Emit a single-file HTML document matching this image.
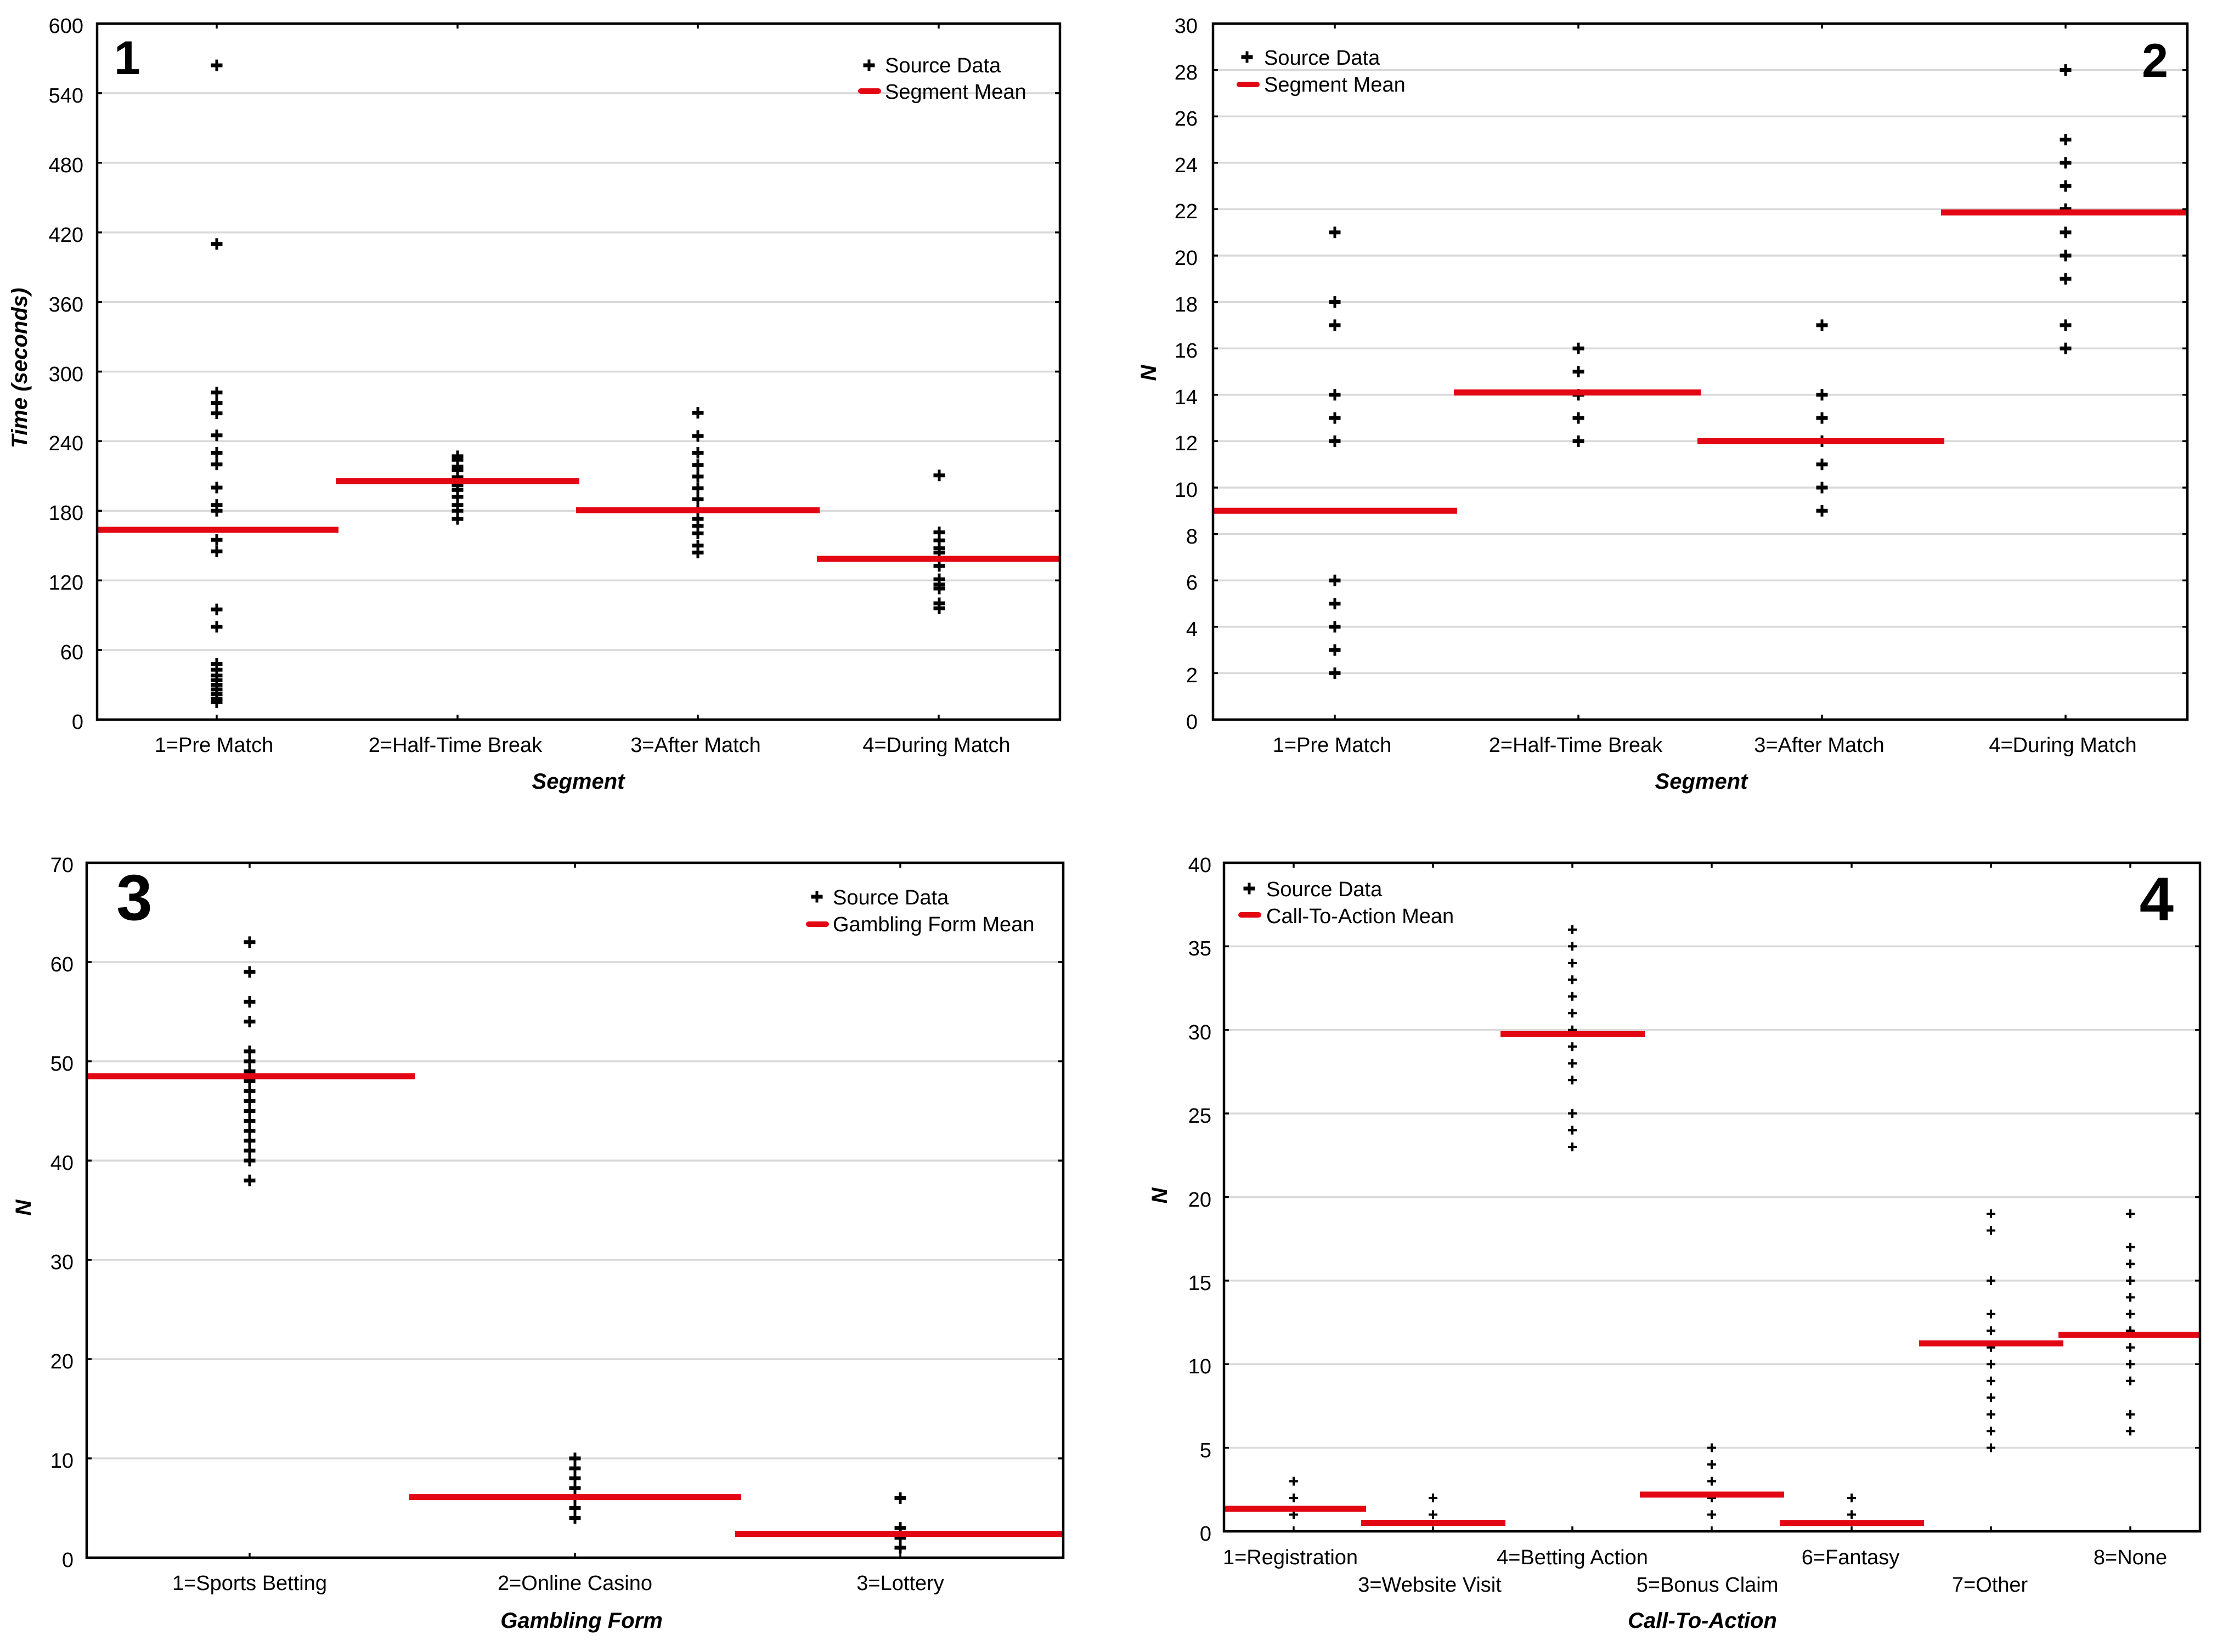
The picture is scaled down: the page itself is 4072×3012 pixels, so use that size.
<!DOCTYPE html>
<html><head><meta charset="utf-8"><style>
html,body{margin:0;padding:0;background:#fff}
svg{display:block}
.t{font-family:"Liberation Sans",sans-serif;font-size:38px;fill:#000}
.ti{font-family:"Liberation Sans",sans-serif;font-size:40px;font-weight:bold;font-style:italic;fill:#000}
.pn{font-family:"Liberation Sans",sans-serif;font-weight:bold;fill:#000}
</style></head><body>
<svg width="4072" height="3012" viewBox="0 0 4072 3012" xmlns="http://www.w3.org/2000/svg">
<defs>
<g id="pb"><path d="M-10.5 0H10.5" stroke="#000" stroke-width="7" fill="none"/><path d="M0 -10.5V10.5" stroke="#000" stroke-width="5" fill="none"/></g>
<path id="pt" d="M-8 0H8M0 -8V8" stroke="#000" stroke-width="4" fill="none"/>
</defs>
<rect width="4072" height="3012" fill="#fff"/>

<!-- ================= PANEL 1 ================= -->
<g stroke="#d9d9d9" stroke-width="3.5">
<path d="M177 1185.1H1932M177 1058.2H1932M177 931.3H1932M177 804.4H1932M177 677.5H1932M177 550.6H1932M177 423.7H1932M177 296.8H1932M177 169.9H1932"/>
</g>
<g fill="#000">
<use href="#pb" x="395" y="119.1"/><use href="#pb" x="395" y="444.8"/><use href="#pb" x="395" y="715.6"/><use href="#pb" x="395" y="734.6"/><use href="#pb" x="395" y="753.6"/><use href="#pb" x="395" y="793.8"/><use href="#pb" x="395" y="825.5"/><use href="#pb" x="395" y="846.7"/><use href="#pb" x="395" y="889"/><use href="#pb" x="395" y="920.7"/><use href="#pb" x="395" y="931.3"/><use href="#pb" x="395" y="984.2"/><use href="#pb" x="395" y="1005.3"/><use href="#pb" x="395" y="1111.1"/><use href="#pb" x="395" y="1142.8"/><use href="#pb" x="395" y="1210.5"/><use href="#pb" x="395" y="1221.1"/><use href="#pb" x="395" y="1231.6"/><use href="#pb" x="395" y="1240.1"/><use href="#pb" x="395" y="1248.5"/><use href="#pb" x="395" y="1257"/><use href="#pb" x="395" y="1265.5"/><use href="#pb" x="395" y="1273.9"/><use href="#pb" x="395" y="1280.3"/>
<use href="#pb" x="834" y="831.9"/><use href="#pb" x="834" y="838.2"/><use href="#pb" x="834" y="850.9"/><use href="#pb" x="834" y="857.3"/><use href="#pb" x="834" y="870"/><use href="#pb" x="834" y="884.8"/><use href="#pb" x="834" y="893.2"/><use href="#pb" x="834" y="905.9"/><use href="#pb" x="834" y="920.7"/><use href="#pb" x="834" y="931.3"/><use href="#pb" x="834" y="946.1"/>
<use href="#pb" x="1272" y="752.6"/><use href="#pb" x="1272" y="794.9"/><use href="#pb" x="1272" y="825.5"/><use href="#pb" x="1272" y="847.8"/><use href="#pb" x="1272" y="868.9"/><use href="#pb" x="1272" y="890.1"/><use href="#pb" x="1272" y="910.1"/><use href="#pb" x="1272" y="931.3"/><use href="#pb" x="1272" y="946.1"/><use href="#pb" x="1272" y="958.8"/><use href="#pb" x="1272" y="972.5"/><use href="#pb" x="1272" y="994.7"/><use href="#pb" x="1272" y="1007.4"/>
<use href="#pb" x="1712" y="866.8"/><use href="#pb" x="1712" y="970.6"/><use href="#pb" x="1712" y="985.2"/><use href="#pb" x="1712" y="999.6"/><use href="#pb" x="1712" y="1007.4"/><use href="#pb" x="1712" y="1018.9"/><use href="#pb" x="1712" y="1031.7"/><use href="#pb" x="1712" y="1056.1"/><use href="#pb" x="1712" y="1065.7"/><use href="#pb" x="1712" y="1073"/><use href="#pb" x="1712" y="1100"/><use href="#pb" x="1712" y="1109"/>
</g>
<g stroke="#e30613" stroke-width="11">
<path d="M177 966H617M612 877.4H1056M1050 930.2H1494M1489 1018.9H1932"/>
</g>
<g stroke="#000" stroke-width="3.5" fill="none">
<path d="M177 1185.1h9M177 1058.2h9M177 931.3h9M177 804.4h9M177 677.5h9M177 550.6h9M177 423.7h9M177 296.8h9M177 169.9h9"/>
<path d="M1932 1185.1h-9M1932 1058.2h-9M1932 931.3h-9M1932 804.4h-9M1932 677.5h-9M1932 550.6h-9M1932 423.7h-9M1932 296.8h-9M1932 169.9h-9"/>
<path d="M395 43v9M834 43v9M1272 43v9M1711 43v9M395 1312v-9M834 1312v-9M1272 1312v-9M1711 1312v-9"/>
</g>
<rect x="177" y="43" width="1755" height="1269" fill="none" stroke="#000" stroke-width="4.5"/>
<g class="t" text-anchor="end">
<text x="152" y="1329">0</text><text x="152" y="1202">60</text><text x="152" y="1075">120</text><text x="152" y="948">180</text><text x="152" y="821">240</text><text x="152" y="695">300</text><text x="152" y="568">360</text><text x="152" y="441">420</text><text x="152" y="314">480</text><text x="152" y="187">540</text><text x="152" y="60">600</text>
</g>
<g class="t" text-anchor="middle">
<text x="390" y="1371">1=Pre Match</text><text x="830" y="1371">2=Half-Time Break</text><text x="1268" y="1371">3=After Match</text><text x="1707" y="1371">4=During Match</text>
</g>
<text class="ti" x="1054" y="1438" text-anchor="middle">Segment</text>
<text class="ti" transform="translate(49,671) rotate(-90)" text-anchor="middle">Time (seconds)</text>
<text class="pn" x="208" y="135" font-size="86">1</text>
<use href="#pb" x="1584" y="119"/>
<text class="t" x="1613" y="132">Source Data</text>
<path d="M1569 166H1601" stroke="#e30613" stroke-width="10" stroke-linecap="round"/>
<text class="t" x="1613" y="180">Segment Mean</text>

<!-- ================= PANEL 2 ================= -->
<g stroke="#d9d9d9" stroke-width="3.5">
<path d="M2211 1227.4H3987M2211 1142.8H3987M2211 1058.2H3987M2211 973.6H3987M2211 889H3987M2211 804.4H3987M2211 719.8H3987M2211 635.2H3987M2211 550.6H3987M2211 466H3987M2211 381.4H3987M2211 296.8H3987M2211 212.2H3987M2211 127.6H3987"/>
</g>
<g>
<use href="#pb" x="2433" y="423.7"/><use href="#pb" x="2433" y="550.6"/><use href="#pb" x="2433" y="592.9"/><use href="#pb" x="2433" y="719.8"/><use href="#pb" x="2433" y="762.1"/><use href="#pb" x="2433" y="804.4"/><use href="#pb" x="2433" y="1058.2"/><use href="#pb" x="2433" y="1100.5"/><use href="#pb" x="2433" y="1142.8"/><use href="#pb" x="2433" y="1185.1"/><use href="#pb" x="2433" y="1227.4"/>
<use href="#pb" x="2877" y="635.2"/><use href="#pb" x="2877" y="677.5"/><use href="#pb" x="2877" y="719.8"/><use href="#pb" x="2877" y="762.1"/><use href="#pb" x="2877" y="804.4"/>
<use href="#pb" x="3321" y="592.9"/><use href="#pb" x="3321" y="719.8"/><use href="#pb" x="3321" y="762.1"/><use href="#pb" x="3321" y="804.4"/><use href="#pb" x="3321" y="846.7"/><use href="#pb" x="3321" y="889"/><use href="#pb" x="3321" y="931.3"/>
<use href="#pb" x="3765" y="127.6"/><use href="#pb" x="3765" y="254.5"/><use href="#pb" x="3765" y="296.8"/><use href="#pb" x="3765" y="339.1"/><use href="#pb" x="3765" y="381.4"/><use href="#pb" x="3765" y="423.7"/><use href="#pb" x="3765" y="466"/><use href="#pb" x="3765" y="508.3"/><use href="#pb" x="3765" y="592.9"/><use href="#pb" x="3765" y="635.2"/>
</g>
<g stroke="#e30613" stroke-width="11">
<path d="M2211 931.3H2656M2650 715.6H3100M3094 804.4H3544M3538 387.3H3987"/>
</g>
<g stroke="#000" stroke-width="3.5" fill="none">
<path d="M2211 1227.4h9M2211 1142.8h9M2211 1058.2h9M2211 973.6h9M2211 889h9M2211 804.4h9M2211 719.8h9M2211 635.2h9M2211 550.6h9M2211 466h9M2211 381.4h9M2211 296.8h9M2211 212.2h9M2211 127.6h9"/>
<path d="M3987 1227.4h-9M3987 1142.8h-9M3987 1058.2h-9M3987 973.6h-9M3987 889h-9M3987 804.4h-9M3987 719.8h-9M3987 635.2h-9M3987 550.6h-9M3987 466h-9M3987 381.4h-9M3987 296.8h-9M3987 212.2h-9M3987 127.6h-9"/>
<path d="M2433 43v9M2877 43v9M3321 43v9M3765 43v9M2433 1312v-9M2877 1312v-9M3321 1312v-9M3765 1312v-9"/>
</g>
<rect x="2211" y="43" width="1776" height="1269" fill="none" stroke="#000" stroke-width="4.5"/>
<g class="t" text-anchor="end">
<text x="2183" y="1329">0</text><text x="2183" y="1244">2</text><text x="2183" y="1160">4</text><text x="2183" y="1075">6</text><text x="2183" y="991">8</text><text x="2183" y="906">10</text><text x="2183" y="821">12</text><text x="2183" y="737">14</text><text x="2183" y="652">16</text><text x="2183" y="568">18</text><text x="2183" y="483">20</text><text x="2183" y="398">22</text><text x="2183" y="314">24</text><text x="2183" y="229">26</text><text x="2183" y="145">28</text><text x="2183" y="60">30</text>
</g>
<g class="t" text-anchor="middle">
<text x="2428" y="1371">1=Pre Match</text><text x="2872" y="1371">2=Half-Time Break</text><text x="3316" y="1371">3=After Match</text><text x="3760" y="1371">4=During Match</text>
</g>
<text class="ti" x="3101" y="1438" text-anchor="middle">Segment</text>
<text class="ti" transform="translate(2107,680) rotate(-90)" text-anchor="middle">N</text>
<text class="pn" x="3952" y="140" font-size="86" text-anchor="end">2</text>
<use href="#pb" x="2273" y="104"/>
<text class="t" x="2304" y="118">Source Data</text>
<path d="M2259 154H2291" stroke="#e30613" stroke-width="10" stroke-linecap="round"/>
<text class="t" x="2304" y="167">Segment Mean</text>

<!-- ================= PANEL 3 ================= -->
<g stroke="#d9d9d9" stroke-width="3.5">
<path d="M158 2659H1938M158 2478H1938M158 2297H1938M158 2116H1938M158 1935H1938M158 1754H1938"/>
</g>
<g>
<use href="#pb" x="455" y="1717.8"/><use href="#pb" x="455" y="1772.1"/><use href="#pb" x="455" y="1826.4"/><use href="#pb" x="455" y="1862.6"/><use href="#pb" x="455" y="1916.9"/><use href="#pb" x="455" y="1935"/><use href="#pb" x="455" y="1953.1"/><use href="#pb" x="455" y="1971.2"/><use href="#pb" x="455" y="1989.3"/><use href="#pb" x="455" y="2007.4"/><use href="#pb" x="455" y="2025.5"/><use href="#pb" x="455" y="2043.6"/><use href="#pb" x="455" y="2061.7"/><use href="#pb" x="455" y="2079.8"/><use href="#pb" x="455" y="2097.9"/><use href="#pb" x="455" y="2116"/><use href="#pb" x="455" y="2152.2"/>
<use href="#pb" x="1048" y="2659"/><use href="#pb" x="1048" y="2677.1"/><use href="#pb" x="1048" y="2695.2"/><use href="#pb" x="1048" y="2713.3"/><use href="#pb" x="1048" y="2731.4"/><use href="#pb" x="1048" y="2749.5"/><use href="#pb" x="1048" y="2767.6"/>
<use href="#pb" x="1641" y="2731.4"/><use href="#pb" x="1641" y="2785.7"/><use href="#pb" x="1641" y="2803.8"/><use href="#pb" x="1641" y="2821.9"/>
</g>
<g stroke="#e30613" stroke-width="11">
<path d="M158 1962.2H756M746 2729.6H1351M1340 2796.6H1938"/>
</g>
<g stroke="#000" stroke-width="3.5" fill="none">
<path d="M158 2659h9M158 2478h9M158 2297h9M158 2116h9M158 1935h9M158 1754h9"/>
<path d="M1938 2659h-9M1938 2478h-9M1938 2297h-9M1938 2116h-9M1938 1935h-9M1938 1754h-9"/>
<path d="M455 1573v9M1048 1573v9M1641 1573v9M455 2840v-9M1048 2840v-9M1641 2840v-9"/>
</g>
<rect x="158" y="1573" width="1780" height="1267" fill="none" stroke="#000" stroke-width="4.5"/>
<g class="t" text-anchor="end">
<text x="134" y="2857">0</text><text x="134" y="2676">10</text><text x="134" y="2495">20</text><text x="134" y="2314">30</text><text x="134" y="2133">40</text><text x="134" y="1952">50</text><text x="134" y="1771">60</text><text x="134" y="1590">70</text>
</g>
<g class="t" text-anchor="middle">
<text x="455" y="2899">1=Sports Betting</text><text x="1048" y="2899">2=Online Casino</text><text x="1641" y="2899">3=Lottery</text>
</g>
<text class="ti" x="1060" y="2968" text-anchor="middle">Gambling Form</text>
<text class="ti" transform="translate(56,2202) rotate(-90)" text-anchor="middle">N</text>
<text class="pn" x="212" y="1677" font-size="118">3</text>
<use href="#pb" x="1489" y="1635"/>
<text class="t" x="1518" y="1649">Source Data</text>
<path d="M1474 1685H1506" stroke="#e30613" stroke-width="10" stroke-linecap="round"/>
<text class="t" x="1518" y="1698">Gambling Form Mean</text>

<!-- ================= PANEL 4 ================= -->
<g stroke="#d9d9d9" stroke-width="3.5">
<path d="M2231 2639.6H4010M2231 2487.3H4010M2231 2334.9H4010M2231 2182.5H4010M2231 2030.1H4010M2231 1877.8H4010M2231 1725.4H4010"/>
</g>
<g>
<use href="#pt" x="2358" y="2700.6"/><use href="#pt" x="2358" y="2731.1"/><use href="#pt" x="2358" y="2761.5"/>
<use href="#pt" x="2612" y="2731.1"/><use href="#pt" x="2612" y="2761.5"/>
<use href="#pt" x="2866" y="1694.9"/><use href="#pt" x="2866" y="1725.4"/><use href="#pt" x="2866" y="1755.9"/><use href="#pt" x="2866" y="1786.3"/><use href="#pt" x="2866" y="1816.8"/><use href="#pt" x="2866" y="1847.3"/><use href="#pt" x="2866" y="1877.8"/><use href="#pt" x="2866" y="1908.2"/><use href="#pt" x="2866" y="1938.7"/><use href="#pt" x="2866" y="1969.2"/><use href="#pt" x="2866" y="2030.1"/><use href="#pt" x="2866" y="2060.6"/><use href="#pt" x="2866" y="2091.1"/>
<use href="#pt" x="3120" y="2639.6"/><use href="#pt" x="3120" y="2670.1"/><use href="#pt" x="3120" y="2700.6"/><use href="#pt" x="3120" y="2731.1"/><use href="#pt" x="3120" y="2761.5"/>
<use href="#pt" x="3375" y="2731.1"/><use href="#pt" x="3375" y="2761.5"/>
<use href="#pt" x="3629" y="2213"/><use href="#pt" x="3629" y="2243.5"/><use href="#pt" x="3629" y="2334.9"/><use href="#pt" x="3629" y="2395.8"/><use href="#pt" x="3629" y="2426.3"/><use href="#pt" x="3629" y="2456.8"/><use href="#pt" x="3629" y="2487.3"/><use href="#pt" x="3629" y="2517.7"/><use href="#pt" x="3629" y="2548.2"/><use href="#pt" x="3629" y="2578.7"/><use href="#pt" x="3629" y="2609.2"/><use href="#pt" x="3629" y="2639.6"/>
<use href="#pt" x="3883" y="2213"/><use href="#pt" x="3883" y="2273.9"/><use href="#pt" x="3883" y="2304.4"/><use href="#pt" x="3883" y="2334.9"/><use href="#pt" x="3883" y="2365.4"/><use href="#pt" x="3883" y="2395.8"/><use href="#pt" x="3883" y="2426.3"/><use href="#pt" x="3883" y="2456.8"/><use href="#pt" x="3883" y="2487.3"/><use href="#pt" x="3883" y="2517.7"/><use href="#pt" x="3883" y="2578.7"/><use href="#pt" x="3883" y="2609.2"/>
</g>
<g stroke="#e30613" stroke-width="11">
<path d="M2231 2751H2490M2481 2776.5H2744M2735 1885.4H2998M2989 2725H3252M3244 2776.8H3507M3498 2449.2H3761M3752 2433.6H4010"/>
</g>
<g stroke="#000" stroke-width="3.5" fill="none">
<path d="M2231 2639.6h9M2231 2487.3h9M2231 2334.9h9M2231 2182.5h9M2231 2030.1h9M2231 1877.8h9M2231 1725.4h9"/>
<path d="M4010 2639.6h-9M4010 2487.3h-9M4010 2334.9h-9M4010 2182.5h-9M4010 2030.1h-9M4010 1877.8h-9M4010 1725.4h-9"/>
<path d="M2358 1573v9M2612 1573v9M2866 1573v9M3120 1573v9M3375 1573v9M3629 1573v9M3883 1573v9M2358 2792v-9M2612 2792v-9M2866 2792v-9M3120 2792v-9M3375 2792v-9M3629 2792v-9M3883 2792v-9"/>
</g>
<rect x="2231" y="1573" width="1779" height="1219" fill="none" stroke="#000" stroke-width="4.5"/>
<g class="t" text-anchor="end">
<text x="2208" y="2809">0</text><text x="2208" y="2657">5</text><text x="2208" y="2504">10</text><text x="2208" y="2352">15</text><text x="2208" y="2200">20</text><text x="2208" y="2047">25</text><text x="2208" y="1895">30</text><text x="2208" y="1742">35</text><text x="2208" y="1590">40</text>
</g>
<g class="t" text-anchor="middle">
<text x="2352" y="2852">1=Registration</text><text x="2866" y="2852">4=Betting Action</text><text x="3373" y="2852">6=Fantasy</text><text x="3883" y="2852">8=None</text>
<text x="2606" y="2902">3=Website Visit</text><text x="3112" y="2902">5=Bonus Claim</text><text x="3627" y="2902">7=Other</text>
</g>
<text class="ti" x="3103" y="2968" text-anchor="middle">Call-To-Action</text>
<text class="ti" transform="translate(2127,2180) rotate(-90)" text-anchor="middle">N</text>
<text class="pn" x="3962" y="1678" font-size="112" text-anchor="end">4</text>
<use href="#pb" x="2277" y="1620"/>
<text class="t" x="2308" y="1634">Source Data</text>
<path d="M2262 1668H2294" stroke="#e30613" stroke-width="10" stroke-linecap="round"/>
<text class="t" x="2308" y="1683">Call-To-Action Mean</text>
</svg>
</body></html>
